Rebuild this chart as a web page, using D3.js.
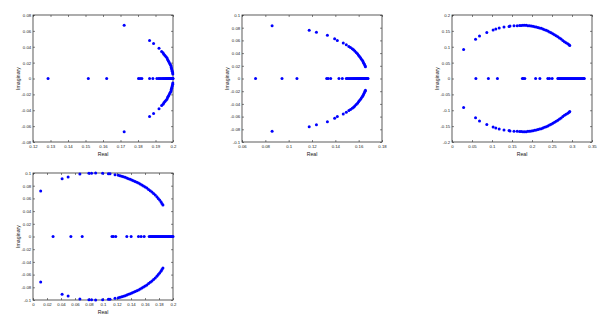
<!DOCTYPE html>
<html>
<head>
<meta charset="utf-8">
<script src="https://cdn.jsdelivr.net/npm/d3@7"></script>
<style>
  body { margin: 0; background: #fff; }
  svg { display: block; }
  .axis text { font-family: "Liberation Sans", Arial, sans-serif; font-size: 4.3px; fill: #222; }
  .axis path { display: none; }
  .axis line { stroke: #333; stroke-width: 0.6; }
  .lbl { font-family: "Liberation Sans", Arial, sans-serif; font-size: 5.2px; fill: #222; text-anchor: middle; }
</style>
</head>
<body>
<script>
// ---- data ----
// real eigenvalues (imag = 0) and complex pairs [re, |im|] (drawn as conjugates)

// panel 1
const p1Real = [0.1286, 0.1516, 0.1621, 0.1803, 0.1812, 0.1822, 0.1866, 0.1885,
  0.1908, 0.1918, 0.1925, 0.1932, 0.1940, 0.1946, 0.1952, 0.1958, 0.1963, 0.1968,
  0.1972, 0.1976, 0.1980, 0.1984, 0.1987, 0.1990, 0.1993, 0.1995, 0.1997, 0.1999, 0.2000];
const p1Pairs = [[0.1721, 0.067], [0.1866, 0.048], [0.1889, 0.044], [0.1920, 0.038],
  [0.1935, 0.034], [0.1943, 0.0324], [0.1948, 0.0307], [0.1954, 0.029], [0.1960, 0.0274],
  [0.1966, 0.0257], [0.1969, 0.024], [0.1973, 0.0223], [0.1977, 0.0207], [0.1981, 0.019],
  [0.1985, 0.0173], [0.1989, 0.0157], [0.1990, 0.014], [0.1992, 0.0123], [0.1994, 0.0107],
  [0.1996, 0.009], [0.1998, 0.0073], [0.1999, 0.0056]];
const p1XTicks = [0.12, 0.13, 0.14, 0.15, 0.16, 0.17, 0.18, 0.19, 0.2];
const p1YTicks = [-0.08, -0.06, -0.04, -0.02, 0, 0.02, 0.04, 0.06, 0.08];

// panel 2
const p2Real = [0.0716, 0.0943, 0.1071, 0.1326, 0.1338, 0.1360, 0.1431, 0.1460,
  0.1494, 0.1505, 0.1516, 0.1527, 0.1537, 0.1547, 0.1556, 0.1565, 0.1573, 0.1581,
  0.1589, 0.1596, 0.1603, 0.1610, 0.1616, 0.1622, 0.1628, 0.1634, 0.1640, 0.1646,
  0.1652, 0.1658, 0.1664, 0.1670, 0.1676, 0.1680];
const p2Pairs = [[0.0858, 0.083], [0.1176, 0.076], [0.1238, 0.073], [0.1332, 0.068],
  [0.1394, 0.0626], [0.1417, 0.060], [0.1468, 0.0558], [0.1494, 0.053],
  [0.1516, 0.0505], [0.1530, 0.049], [0.1545, 0.0468], [0.1556, 0.0453], [0.1567, 0.0432],
  [0.1579, 0.041], [0.1590, 0.039], [0.1599, 0.0368], [0.1607, 0.0347], [0.1616, 0.0326],
  [0.1624, 0.0305], [0.1633, 0.0284], [0.1638, 0.0263], [0.1644, 0.0242], [0.1650, 0.0221],
  [0.1655, 0.020], [0.1658, 0.0184]];
const p2XTicks = [0.06, 0.08, 0.1, 0.12, 0.14, 0.16, 0.18];
const p2YTicks = [-0.1, -0.08, -0.06, -0.04, -0.02, 0, 0.02, 0.04, 0.06, 0.08, 0.1];

// panel 3
const p3Real = [0.0597, 0.0910, 0.1136, 0.1760, 0.1780, 0.1820, 0.2090, 0.2197,
  0.2396, 0.2438, 0.2504, 0.2645, 0.2670, 0.2695, 0.2720, 0.2745, 0.2770, 0.2795,
  0.2820, 0.2845, 0.2870, 0.2895, 0.2920, 0.2945, 0.2970, 0.2995, 0.3020, 0.3045,
  0.3070, 0.3095, 0.3120, 0.3145, 0.3170, 0.3195, 0.3220, 0.3245, 0.3270, 0.3290, 0.3308];
const p3Pairs = [[0.029, 0.0916], [0.0589, 0.124], [0.0688, 0.134], [0.087, 0.145],
  [0.1028, 0.153], [0.1095, 0.156], [0.118, 0.159], [0.130, 0.162], [0.1426, 0.164],
  [0.145, 0.165], [0.155, 0.166], [0.163, 0.1665], [0.169, 0.167], [0.173, 0.167],
  [0.1774, 0.1674], [0.1816, 0.1674], [0.1857, 0.1674], [0.1899, 0.1663], [0.1940, 0.1663],
  [0.1982, 0.1653], [0.2023, 0.1642], [0.2065, 0.1632], [0.2106, 0.1621], [0.2148, 0.161],
  [0.2189, 0.159], [0.2231, 0.158], [0.2272, 0.1558], [0.2313, 0.1537], [0.2355, 0.1516],
  [0.2396, 0.1495], [0.2438, 0.1463], [0.2479, 0.1442], [0.2521, 0.1411], [0.2562, 0.1379],
  [0.2604, 0.1347], [0.2645, 0.1316], [0.2687, 0.1274], [0.2728, 0.1242], [0.2770, 0.120],
  [0.2811, 0.1158], [0.2852, 0.1126], [0.2894, 0.1095], [0.2927, 0.1063], [0.2944, 0.1042]];
const p3XTicks = [0, 0.05, 0.1, 0.15, 0.2, 0.25, 0.3, 0.35];
const p3YTicks = [-0.2, -0.15, -0.1, -0.05, 0, 0.05, 0.1, 0.15, 0.2];

// panel 4
const p4Real = [0.0287, 0.0541, 0.0703, 0.1129, 0.1148, 0.1182, 0.1340, 0.1402,
  0.1507, 0.1545, 0.1588, 0.1660, 0.1675, 0.1690, 0.1705, 0.1720, 0.1735, 0.1750,
  0.1765, 0.1780, 0.1795, 0.1810, 0.1825, 0.1840, 0.1855, 0.1870, 0.1885, 0.1900,
  0.1915, 0.1930, 0.1945, 0.1960, 0.1975, 0.1990, 0.2000];
const p4Pairs = [[0.011, 0.0716], [0.0416, 0.0911], [0.0502, 0.0937], [0.0670, 0.0984],
  [0.0799, 0.0995], [0.0837, 0.0995], [0.0895, 0.1], [0.0995, 0.0995], [0.1077, 0.099],
  [0.1100, 0.099], [0.1172, 0.0974], [0.1220, 0.0963], [0.1244, 0.0958], [0.1268, 0.0947],
  [0.1292, 0.0942], [0.1316, 0.0932], [0.1340, 0.0921], [0.1364, 0.0911], [0.1388, 0.090],
  [0.1411, 0.0889], [0.1435, 0.0879], [0.1459, 0.0868], [0.1483, 0.0853], [0.1507, 0.0842],
  [0.1531, 0.0826], [0.1555, 0.0811], [0.1579, 0.0795], [0.1603, 0.0779], [0.1627, 0.0763],
  [0.1651, 0.0742], [0.1675, 0.0721], [0.1699, 0.070], [0.1722, 0.0679], [0.1746, 0.0653],
  [0.1770, 0.0626], [0.1789, 0.060], [0.1809, 0.0574], [0.1828, 0.0547], [0.1842, 0.0521],
  [0.1856, 0.0495]];
const p4XTicks = [0, 0.02, 0.04, 0.06, 0.08, 0.1, 0.12, 0.14, 0.16, 0.18, 0.2];
const p4YTicks = [-0.1, -0.08, -0.06, -0.04, -0.02, 0, 0.02, 0.04, 0.06, 0.08, 0.1];

// ---- layout ----
const W = 608, H = 323;
const boxW = 140, boxH = 127;

const panels = [
  { left: 33,  top: 15,  real: p1Real, pairs: p1Pairs, xt: p1XTicks, yt: p1YTicks },
  { left: 242, top: 15,  real: p2Real, pairs: p2Pairs, xt: p2XTicks, yt: p2YTicks },
  { left: 452, top: 15,  real: p3Real, pairs: p3Pairs, xt: p3XTicks, yt: p3YTicks },
  { left: 33,  top: 173, real: p4Real, pairs: p4Pairs, xt: p4XTicks, yt: p4YTicks }
];

const svg = d3.select('body').append('svg')
  .attr('width', W)
  .attr('height', H);

const fmt = d => String(d);

panels.forEach(p => {
  const x = d3.scaleLinear().domain(d3.extent(p.xt)).range([0, boxW]);
  const y = d3.scaleLinear().domain(d3.extent(p.yt)).range([boxH, 0]);

  const g = svg.append('g').attr('transform', `translate(${p.left},${p.top})`);

  // ticks on all four sides, pointing inwards
  g.append('g').attr('class', 'axis')
    .attr('transform', `translate(0,${boxH})`)
    .call(d3.axisBottom(x).tickValues(p.xt).tickSize(-2).tickPadding(3).tickFormat(fmt));
  g.append('g').attr('class', 'axis')
    .call(d3.axisTop(x).tickValues(p.xt).tickSize(-2).tickFormat(''));
  g.append('g').attr('class', 'axis')
    .call(d3.axisLeft(y).tickValues(p.yt).tickSize(-2).tickPadding(1.8).tickFormat(fmt));
  g.append('g').attr('class', 'axis')
    .attr('transform', `translate(${boxW},0)`)
    .call(d3.axisRight(y).tickValues(p.yt).tickSize(-2).tickFormat(''));

  g.append('rect')
    .attr('width', boxW)
    .attr('height', boxH)
    .attr('fill', 'none')
    .attr('stroke', '#333')
    .attr('stroke-width', 0.8);

  // points: real ones on the axis, complex ones as conjugate pairs
  const pts = p.real.map(r => [r, 0])
    .concat(p.pairs.map(c => [c[0], c[1]]))
    .concat(p.pairs.map(c => [c[0], -c[1]]));

  g.selectAll('circle')
    .data(pts)
    .enter().append('circle')
    .attr('cx', d => x(d[0]))
    .attr('cy', d => y(d[1]))
    .attr('r', 1.5)
    .attr('fill', '#0000ff');

  // axis labels
  g.append('text')
    .attr('class', 'lbl')
    .attr('x', boxW / 2)
    .attr('y', boxH + 14)
    .text('Real');

  g.append('text')
    .attr('class', 'lbl')
    .attr('transform', `translate(-12.8,${boxH / 2})rotate(-90)`)
    .text('Imaginary');
});
</script>
</body>
</html>
